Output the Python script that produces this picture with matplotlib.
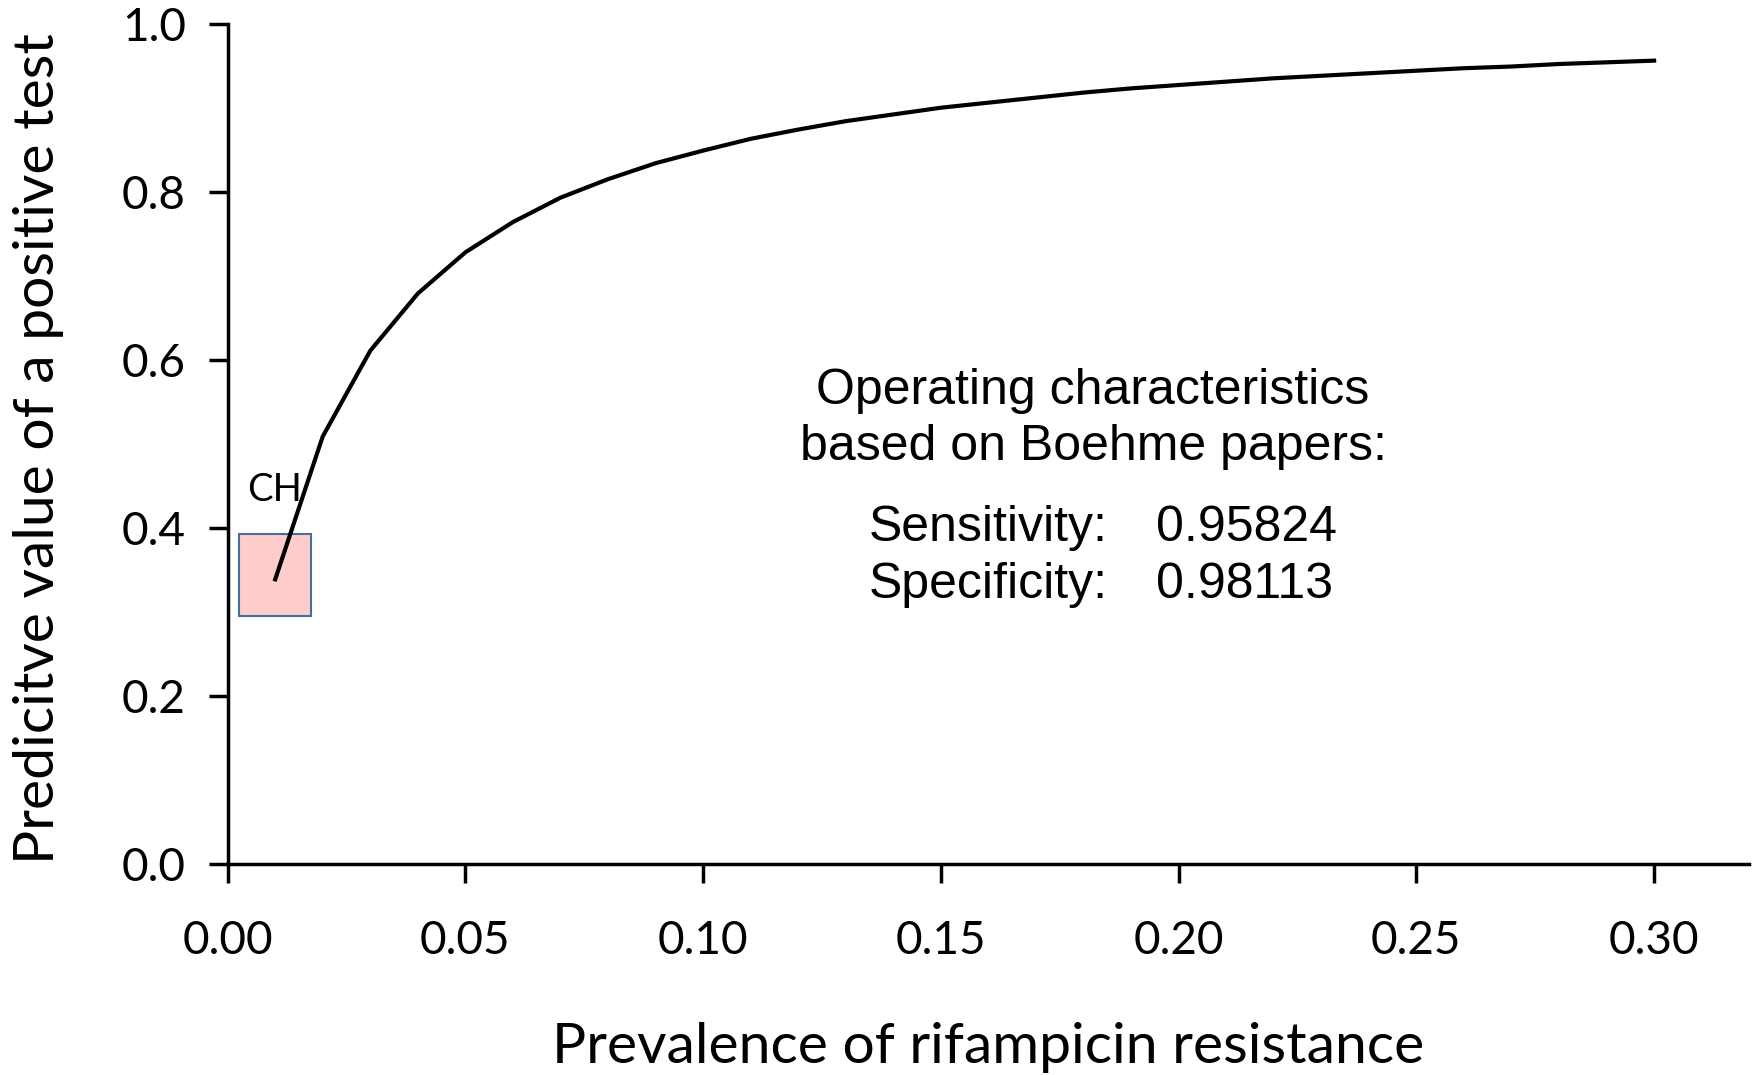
import matplotlib
matplotlib.use('Agg')
import matplotlib.pyplot as plt
from matplotlib.patches import Rectangle

# prevalence of rifampicin resistance vs positive predictive value
prevalence = [0.01, 0.02, 0.03, 0.04, 0.05, 0.06, 0.07, 0.08, 0.09, 0.10,
              0.11, 0.12, 0.13, 0.14, 0.15, 0.16, 0.17, 0.18, 0.19, 0.20,
              0.21, 0.22, 0.23, 0.24, 0.25, 0.26, 0.27, 0.28, 0.29, 0.30]
ppv = [0.339, 0.509, 0.611, 0.679, 0.728, 0.764, 0.793, 0.815, 0.834, 0.849,
       0.863, 0.874, 0.884, 0.892, 0.900, 0.906, 0.912, 0.918, 0.923, 0.927,
       0.931, 0.935, 0.938, 0.941, 0.944, 0.947, 0.949, 0.952, 0.954, 0.956]

# CH region box: (x0, y0, x1, y1)
ch_box = (0.0024, 0.295, 0.0175, 0.393)
sensitivity = "0.95824"
specificity = "0.98113"

x_ticks = [0.00, 0.05, 0.10, 0.15, 0.20, 0.25, 0.30]
y_ticks = [0.0, 0.2, 0.4, 0.6, 0.8, 1.0]

label_font = 'Lato'
note_font = 'Liberation Sans'

fig = plt.figure(figsize=(17.58, 10.75), dpi=100)
ax = fig.add_axes([0.1295, 0.196, 0.8655, 0.782])

ax.add_patch(Rectangle((ch_box[0], ch_box[1]), ch_box[2] - ch_box[0], ch_box[3] - ch_box[1],
                       facecolor='#ffcccc', edgecolor='#41719c', linewidth=1.5, zorder=2))
ax.plot(prevalence, ppv, color='black', linewidth=3, zorder=3)
ax.text(0.004, 0.445, "CH", fontsize=27.5, family=label_font, ha='left', va='center')

ax.text(0.182, 0.563, "Operating characteristics", fontsize=36, family=note_font,
        ha='center', va='center')
ax.text(0.182, 0.496, "based on Boehme papers:", fontsize=36, family=note_font,
        ha='center', va='center')
ax.text(0.1349, 0.40, "Sensitivity:", fontsize=36, family=note_font, ha='left', va='center')
ax.text(0.1953, 0.40, sensitivity, fontsize=36, family=note_font, ha='left', va='center')
ax.text(0.1349, 0.332, "Specificity:", fontsize=36, family=note_font, ha='left', va='center')
ax.text(0.1953, 0.332, specificity, fontsize=36, family=note_font, ha='left', va='center')

ax.set_xlim(0, 0.32)
ax.set_ylim(0, 1.0)
ax.set_xticks(x_ticks)
ax.set_xticklabels([f"{v:.2f}" for v in x_ticks])
ax.set_yticks(y_ticks)
ax.set_yticklabels([f"{v:.1f}" for v in y_ticks])
for lab in ax.get_xticklabels() + ax.get_yticklabels():
    lab.set_family(label_font)
    lab.set_fontsize(33)
ax.tick_params(axis='both', direction='out', length=14, width=2.5, pad=16)
ax.tick_params(axis='x', pad=26)

ax.spines['top'].set_visible(False)
ax.spines['right'].set_visible(False)
for s in ['left', 'bottom']:
    ax.spines[s].set_linewidth(2.5)

ax.set_xlabel("Prevalence of rifampicin resistance", fontsize=41, family=label_font, va='center')
ax.xaxis.set_label_coords(0.5, -0.218)
ax.set_ylabel("Predicitve value of a positive test", fontsize=41, family=label_font, va='center')
ax.yaxis.set_label_coords(-0.124, 0.495)

fig.savefig('out.png', dpi=100)
